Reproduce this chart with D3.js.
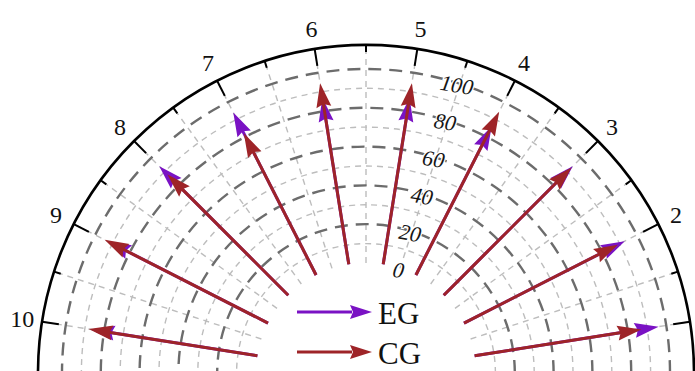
<!DOCTYPE html>
<html>
<head>
<meta charset="utf-8">
<script src="https://cdn.jsdelivr.net/npm/d3@7"></script>
<style>
  html, body { margin: 0; padding: 0; background: #fff; }
  svg { display: block; }
</style>
</head>
<body>
<svg id="chart" width="695" height="371"></svg>
<script>
// Angular categories (1..10) and the two series drawn as arrows from 0
const categories = ["1", "2", "3", "4", "5", "6", "7", "8", "9", "10"];
const cgValues = [87, 89, 93, 94.5, 94.5, 94.5, 82, 88, 94.5, 88];
const egValues = [96, 93, 94, 86, 87, 87, 94, 94, 93, 87];
const radialMajor = [0, 20, 40, 60, 80, 100];
const radialMinor = [10, 30, 50, 70, 90];
const seriesNames = ["EG", "CG"];
const seriesColors = ["#7a12c4", "#9e2428"];

const svg = d3.select("#chart");
const cx = 366, cy = 373;
const outerR = 328;

// angle scale in degrees, counter-clockwise from the right-hand horizontal
const angle = d3.scalePoint().domain(categories).range([9, 171]);
const radius = d3.scaleLinear().domain([0, 100]).range([110, 304]);

const rad = d => d * Math.PI / 180;
const px = (deg, r) => cx + r * Math.cos(rad(deg));
const py = (deg, r) => cy - r * Math.sin(rad(deg));

function upperArc(r) {
  const p = d3.path();
  p.moveTo(cx + r, cy);
  p.arc(cx, cy, r, 0, -Math.PI, true);
  return p.toString();
}

const grid = svg.append("g");

// minor (light) grid circles
grid.selectAll("path.minor").data(radialMinor).join("path")
  .attr("class", "minor")
  .attr("d", d => upperArc(radius(d)))
  .attr("fill", "none")
  .attr("stroke", "#bdbdbd")
  .attr("stroke-width", 1.4)
  .attr("stroke-dasharray", "6,5");

// spokes every 9 degrees
const spokeAngles = d3.range(0, 181, 9);
grid.selectAll("line.spoke").data(spokeAngles).join("line")
  .attr("class", "spoke")
  .attr("x1", d => px(d, radius(0)))
  .attr("y1", d => py(d, radius(0)))
  .attr("x2", d => px(d, outerR))
  .attr("y2", d => py(d, outerR))
  .attr("stroke", "#bdbdbd")
  .attr("stroke-width", 1.4)
  .attr("stroke-dasharray", "6,5");

// major (dark) grid circles
grid.selectAll("path.major").data(radialMajor.filter(v => v > 0)).join("path")
  .attr("class", "major")
  .attr("d", d => upperArc(radius(d)))
  .attr("fill", "none")
  .attr("stroke", "#6c6c6c")
  .attr("stroke-width", 2.4)
  .attr("stroke-dasharray", "13,8");

// outer boundary and ticks
svg.append("path")
  .attr("d", upperArc(outerR))
  .attr("fill", "none")
  .attr("stroke", "#000")
  .attr("stroke-width", 2.6);

const minorTickAngles = d3.range(0, 181, 18);
svg.selectAll("line.mtick").data(minorTickAngles).join("line")
  .attr("x1", d => px(d, outerR))
  .attr("y1", d => py(d, outerR))
  .attr("x2", d => px(d, outerR - 7))
  .attr("y2", d => py(d, outerR - 7))
  .attr("stroke", "#000")
  .attr("stroke-width", 2);

svg.selectAll("line.tick").data(categories).join("line")
  .attr("x1", d => px(angle(d), outerR))
  .attr("y1", d => py(angle(d), outerR))
  .attr("x2", d => px(angle(d), outerR - 17))
  .attr("y2", d => py(angle(d), outerR - 17))
  .attr("stroke", "#000")
  .attr("stroke-width", 2);

svg.selectAll("text.cat").data(categories).join("text")
  .attr("x", d => px(angle(d), outerR + 20))
  .attr("y", d => py(angle(d), outerR + 20))
  .attr("text-anchor", "middle")
  .attr("dominant-baseline", "central")
  .attr("font-family", "'Liberation Serif', 'Times New Roman', serif")
  .attr("font-size", 24)
  .attr("fill", "#111")
  .text(d => d);

// radial axis labels along 72.5 degrees
const labelAngle = 72.5;
svg.selectAll("text.rlab").data(radialMajor).join("text")
  .attr("transform", d => `translate(${px(labelAngle, radius(d) - 2)},${py(labelAngle, radius(d) - 2)}) rotate(10)`)
  .attr("text-anchor", "middle")
  .attr("dominant-baseline", "central")
  .attr("font-family", "'Liberation Serif', 'Times New Roman', serif")
  .attr("font-style", "italic")
  .attr("font-size", 22)
  .attr("fill", "#161616")
  .attr("stroke", "#fff")
  .attr("stroke-width", 2.5)
  .attr("paint-order", "stroke")
  .text(d => d);

// arrow drawing helpers
const headLen = 24, headHalf = 7.5, notch = 3;
function headPath(deg, rTip) {
  const a = rad(deg);
  const ux = Math.cos(a), uy = -Math.sin(a);
  const nx = -uy, ny = ux;
  const tx = cx + rTip * ux, ty = cy + rTip * uy;
  const bx = tx - headLen * ux, by = ty - headLen * uy;
  const mx = bx + notch * ux, my = by + notch * uy;
  return `M${tx},${ty}L${bx + headHalf * nx},${by + headHalf * ny}L${mx},${my}L${bx - headHalf * nx},${by - headHalf * ny}Z`;
}

function drawSeries(values, color) {
  const g = svg.append("g");
  g.selectAll("line").data(categories).join("line")
    .attr("x1", d => px(angle(d), radius(0)))
    .attr("y1", d => py(angle(d), radius(0)))
    .attr("x2", (d, i) => px(angle(d), radius(values[i]) - headLen + notch + 1))
    .attr("y2", (d, i) => py(angle(d), radius(values[i]) - headLen + notch + 1))
    .attr("stroke", color)
    .attr("stroke-width", 3);
  g.selectAll("path").data(categories).join("path")
    .attr("d", (d, i) => headPath(angle(d), radius(values[i])))
    .attr("fill", color);
}

drawSeries(egValues, seriesColors[0]);
drawSeries(cgValues, seriesColors[1]);

// legend in the empty centre
const legend = svg.append("g");
seriesNames.forEach((name, i) => {
  const y = 312 + i * 40;
  const x0 = 297, x1 = 372;
  legend.append("line")
    .attr("x1", x0).attr("y1", y).attr("x2", x1 - 20).attr("y2", y)
    .attr("stroke", seriesColors[i]).attr("stroke-width", 3);
  legend.append("path")
    .attr("d", `M${x1},${y}L${x1 - 22},${y - 7}L${x1 - 19},${y}L${x1 - 22},${y + 7}Z`)
    .attr("fill", seriesColors[i]);
  legend.append("text")
    .attr("x", 378).attr("y", y + 1)
    .attr("dominant-baseline", "central")
    .attr("font-family", "'Liberation Serif', 'Times New Roman', serif")
    .attr("font-size", 31)
    .attr("fill", "#111")
    .text(name);
});
</script>
</body>
</html>
